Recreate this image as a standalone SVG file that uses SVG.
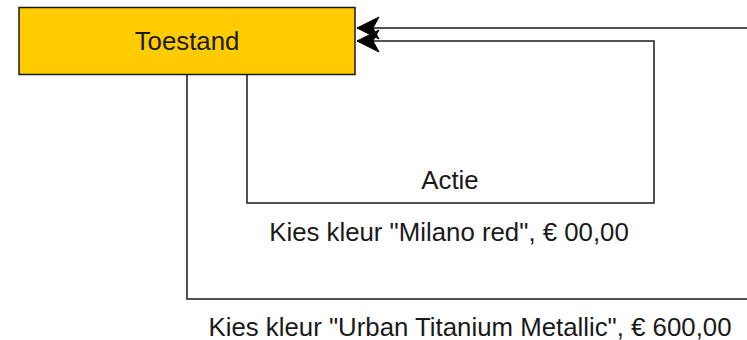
<svg xmlns="http://www.w3.org/2000/svg" width="747" height="340" viewBox="0 0 747 340">
<style>
.lbl{font-family:"Liberation Sans",Arial,sans-serif;font-size:25.8px;fill:#1a1a1a;text-anchor:middle}
.edge{fill:none;stroke:#1a1a1a;stroke-width:1.5}
</style>
<defs>
<marker id="arr" markerUnits="userSpaceOnUse" markerWidth="30" markerHeight="30" viewBox="-28 -15 30 30" refX="0" refY="0" orient="auto">
<path d="M0,0 L-22,-11 L-16,0 L-22,11 Z" fill="#000" stroke="#000" stroke-width="1"/>
</marker>
</defs>
<rect width="747" height="340" fill="#fff"/>
<g id="toestand">
<rect x="19" y="7.5" width="336" height="67" fill="#FFCC00" stroke="#1a1a1a" stroke-width="1.5"/>
<text class="lbl" x="187" y="50">Toestand</text>
</g>
<g id="connectors">
<path class="edge" d="M187,75 V299 H760 V28 H357" marker-end="url(#arr)"/>
<path class="edge" d="M247,75 V203 H654 V41 H357" marker-end="url(#arr)"/>
</g>
<g id="labels">
<text class="lbl" x="450" y="189">Actie</text>
<text class="lbl" x="449" y="241">Kies kleur "Milano red", € 00,00</text>
<text class="lbl" x="470" y="336">Kies kleur "Urban Titanium Metallic", € 600,00</text>
</g>
</svg>
